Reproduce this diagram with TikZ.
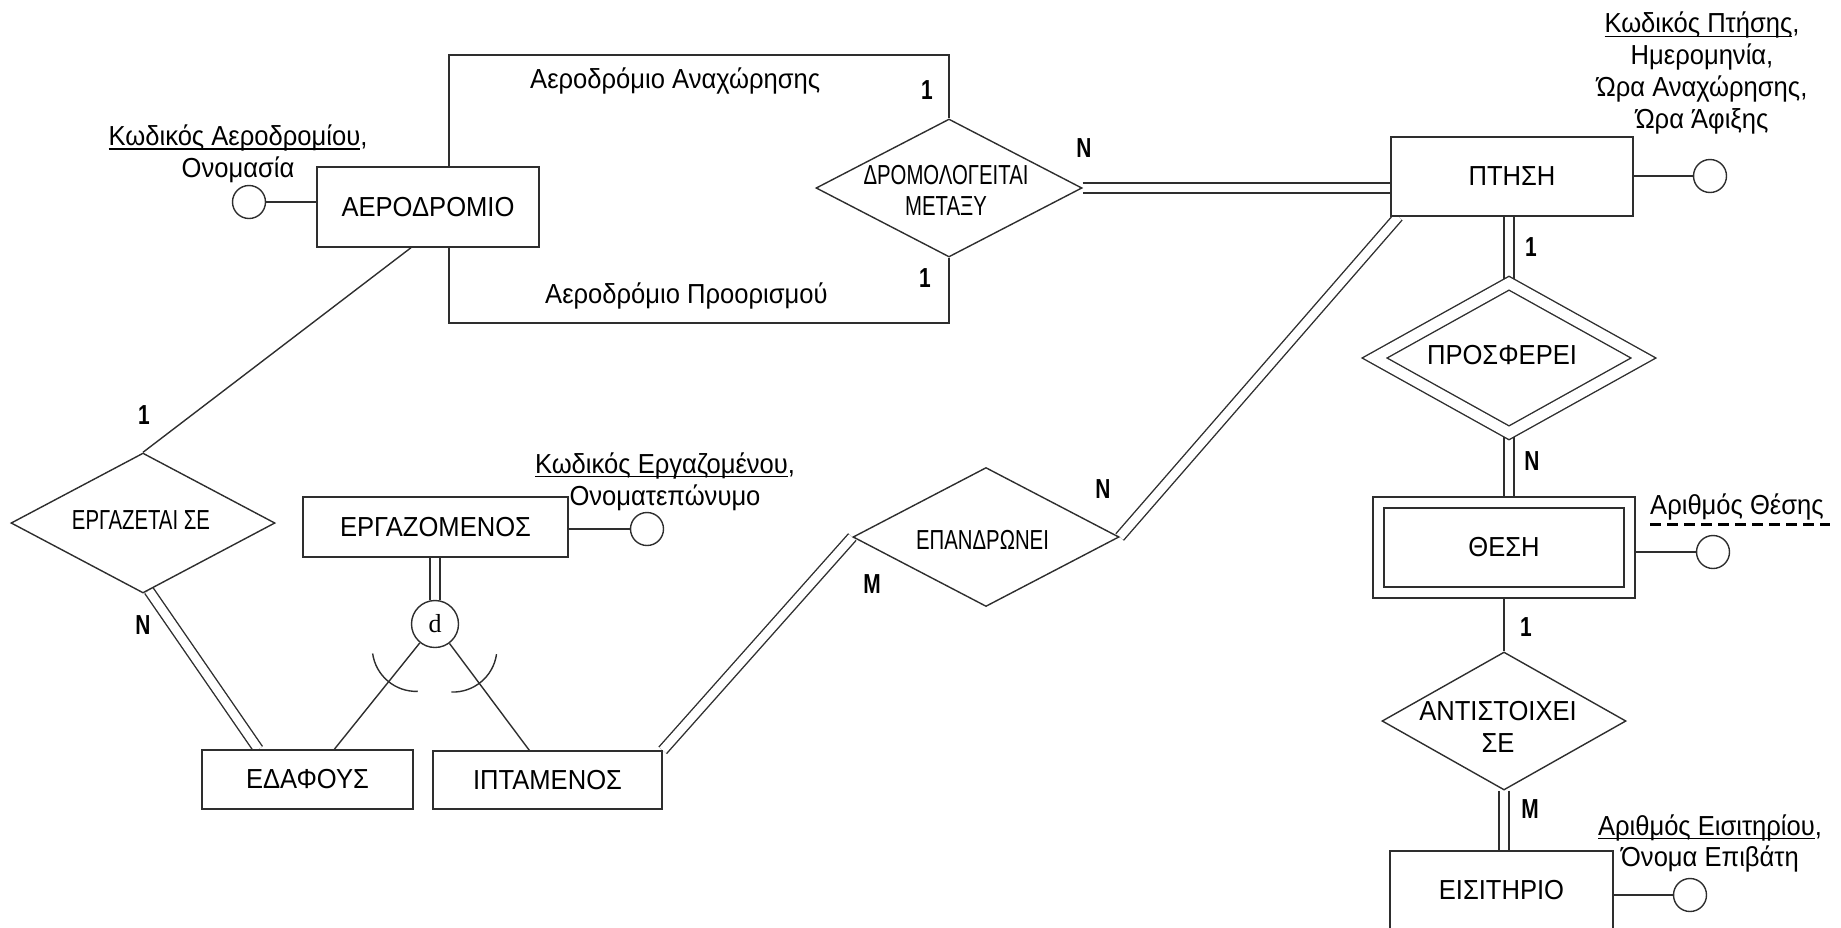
\documentclass[tikz,border=0pt]{standalone}
\usepackage{fontspec}
\setmainfont{Liberation Sans}[FakeStretch=0.93]
\newfontfamily\narrowfont{Liberation Sans}[FakeStretch=0.74]
\newfontfamily\cardfont{Liberation Sans}[FakeStretch=0.76]
\newfontfamily\serifd{Liberation Serif}
\usetikzlibrary{shapes.geometric,calc,backgrounds}

% underlined key attribute (rule sits just under the baseline)
\newcommand{\keyul}[1]{\setbox0=\hbox{#1}\rlap{\rule[-4pt]{\wd0}{1.4pt}}\box0}

\tikzset{
  ln/.style={draw=black!82, line width=1.4pt},
  entity/.style={rectangle, ln, fill=white, inner sep=0pt,
    font=\fontsize{27.5}{31.7}\selectfont},
  weakentity/.style={entity, double, double distance=9.6pt},
  rel/.style={diamond, ln, fill=white, inner sep=0pt},
  weakrel/.style={rel, double, double distance=10.6pt},
  attr/.style={circle, ln, fill=white, minimum size=33pt, inner sep=0pt},
  lbl/.style={inner sep=0pt, font=\fontsize{27.5}{31.7}\selectfont},
  nlbl/.style={inner sep=0pt, align=center, font=\narrowfont\fontsize{27.5}{31}\selectfont},
  card/.style={inner sep=0pt, font=\cardfont\bfseries\fontsize{27.5}{30}\selectfont},
  link/.style={ln},
  total/.style={draw=black!82, line width=1.4pt, double, double distance=8.6pt},
}

\begin{document}
\begin{tikzpicture}[x=1pt, y=-1pt]
\useasboundingbox (0,0) rectangle (1841,927);
\clip (0,0) rectangle (1841,927);

% ---------- entities ----------
\node[entity, minimum width=222pt, minimum height=80pt] (aer) at (428,207) {ΑΕΡΟΔΡΟΜΙΟ};
\node[entity, minimum width=242pt, minimum height=79pt] (pt) at (1512,176.5) {ΠΤΗΣΗ};
\node[entity, minimum width=265pt, minimum height=60pt] (ergm) at (435.5,527) {ΕΡΓΑΖΟΜΕΝΟΣ};
\node[entity, minimum width=211pt, minimum height=59pt] (edaf) at (307.5,779.5) {ΕΔΑΦΟΥΣ};
\node[entity, minimum width=229pt, minimum height=58pt] (ipt) at (547.5,780) {ΙΠΤΑΜΕΝΟΣ};
\node[weakentity, minimum width=251pt, minimum height=90pt] (thesi) at (1504,547.5) {ΘΕΣΗ};
\node[entity, minimum width=223pt, minimum height=78pt] (eis) at (1501.5,890) {ΕΙΣΙΤΗΡΙΟ};

% ---------- relationships ----------
\node[rel, minimum width=266pt, minimum height=138pt] (drom) at (949,188) {};
\node[rel, minimum width=264pt, minimum height=140pt] (ergz) at (143,523) {};
\node[rel, minimum width=266pt, minimum height=139pt] (epan) at (986,537) {};
\node[weakrel, minimum width=269.4pt, minimum height=150.2pt] (prosf) at (1509,358) {};
\node[rel, minimum width=244pt, minimum height=138pt] (anti) at (1504,721) {};

\node[nlbl] (dromtx) at (946,190.7) {ΔΡΟΜΟΛΟΓΕΙΤΑΙ\\ΜΕΤΑΞΥ};
\node[nlbl] (ergztx) at (141,520) {ΕΡΓΑΖΕΤΑΙ ΣΕ};
\node[nlbl] (epantx) at (982.5,540) {ΕΠΑΝΔΡΩΝΕΙ};
\node[lbl] (prosftx) at (1502,355) {ΠΡΟΣΦΕΡΕΙ};
\node[lbl, align=center] (antitx) at (1498,727) {ΑΝΤΙΣΤΟΙΧΕΙ\\ΣΕ};

% ---------- specialisation circle ----------
\node[circle, ln, fill=white, minimum size=47pt, inner sep=0pt,
      font=\serifd\fontsize{26}{26}\selectfont] (d) at (435,624) {d};

% ---------- attribute circles ----------
\node[attr] (aerk) at (249,202) {};
\node[attr] (ptk) at (1710,176) {};
\node[attr] (ergmk) at (647,529) {};
\node[attr] (thesik) at (1713,552) {};
\node[attr] (eisk) at (1690,895) {};

% ---------- attribute texts ----------
\node[lbl, align=center] (aerat) at (238,154) {\keyul{Κωδικός Αεροδρομίου},\\Ονομασία};
\node[lbl, align=center] (ptat) at (1702,73) {\keyul{Κωδικός Πτήσης},\\Ημερομηνία,\\Ώρα Αναχώρησης,\\Ώρα Άφιξης};
\node[lbl, align=center] (ergmat) at (665,481.6) {\keyul{Κωδικός Εργαζομένου},\\Ονοματεπώνυμο};
\node[lbl, align=center] (eisat) at (1710,843.6) {\keyul{Αριθμός Εισιτηρίου},\\Όνομα Επιβάτη};
\node[lbl, anchor=base west] (thesat) at (1650,514) {Αριθμός Θέσης};
\draw[black, line width=2.6pt, dash pattern=on 11pt off 6pt]
  ($(thesat.base west)+(0,10.5)$) -- ++(180,0);

% role names
\node[lbl, anchor=base west] (depl) at (530,88) {Αεροδρόμιο Αναχώρησης};
\node[lbl, anchor=base west] (arrl) at (545,303) {Αεροδρόμιο Προορισμού};

% ---------- cardinalities ----------
\node[card] (c1) at (927,90) {1};
\node[card] (c2) at (925,278) {1};
\node[card] (c3) at (1084,148) {N};
\node[card] (c4) at (144,415) {1};
\node[card] (c5) at (143,625) {N};
\node[card] (c6) at (872,584) {M};
\node[card] (c7) at (1103,489) {N};
\node[card] (c8) at (1531,247) {1};
\node[card] (c9) at (1532,461) {N};
\node[card] (c10) at (1526,627) {1};
\node[card] (c11) at (1530,809) {M};

% ---------- connectors ----------
\coordinate (depbend) at (449,55);
\coordinate (arrbend) at (449,323);
\coordinate (edafpt) at ($(edaf.north west)+(133,0)$);
\coordinate (iptpt) at ($(ipt.north west)+(97,0)$);
\coordinate (cL) at ($(d.center)!30pt!(edafpt)$);
\coordinate (cR) at ($(d.center)!30pt!(iptpt)$);

\begin{scope}[on background layer]
  % departure / destination airport roles
  \draw[link] (depbend |- aer.north) -- (depbend) -| (drom.north);
  \draw[link] (arrbend |- aer.south) -- (arrbend) -| (drom.south);
  \draw[total] (drom.east) -- (drom.east -| pt.west);

  % employees
  \draw[link] ([xshift=-17pt]aer.south) -- (ergz.north);
  \draw[total] (ergz.-85) -- ($(edaf.north west)+(57,0)$);
  \draw[total] (d.north |- ergm.south) -- (d.north);
  \draw[link] (d) -- (edafpt);
  \draw[link] (d) -- (iptpt);
  \draw[total] (ipt.north east) -- (epan.west);
  \draw[total] (epan.east) -- ($(pt.south west)+(8,0)$);

  % flight, seat, ticket
  \draw[total] (prosf.north |- pt.south) -- (prosf.north);
  \draw[total] (prosf.south) -- (prosf.south |- thesi.north);
  \draw[link] (anti.north |- thesi.south) -- (anti.north);
  \draw[total] (anti.south) -- (anti.south |- eis.north);

  % attributes
  \draw[link] (aerk -| aer.west) -- (aerk);
  \draw[link] (ptk -| pt.east) -- (ptk);
  \draw[link] (ergmk -| ergm.east) -- (ergmk);
  \draw[link] (thesik -| thesi.east) -- (thesik);
  \draw[link] (eisk -| eis.east) -- (eisk);
\end{scope}

% subset marks on the specialisation lines
\draw[link] ($(cL)+(172:44)$) arc[start angle=172, end angle=88, radius=44];
\draw[link] ($(cR)+(8:44)$) arc[start angle=8, end angle=92, radius=44];

\end{tikzpicture}
\end{document}
